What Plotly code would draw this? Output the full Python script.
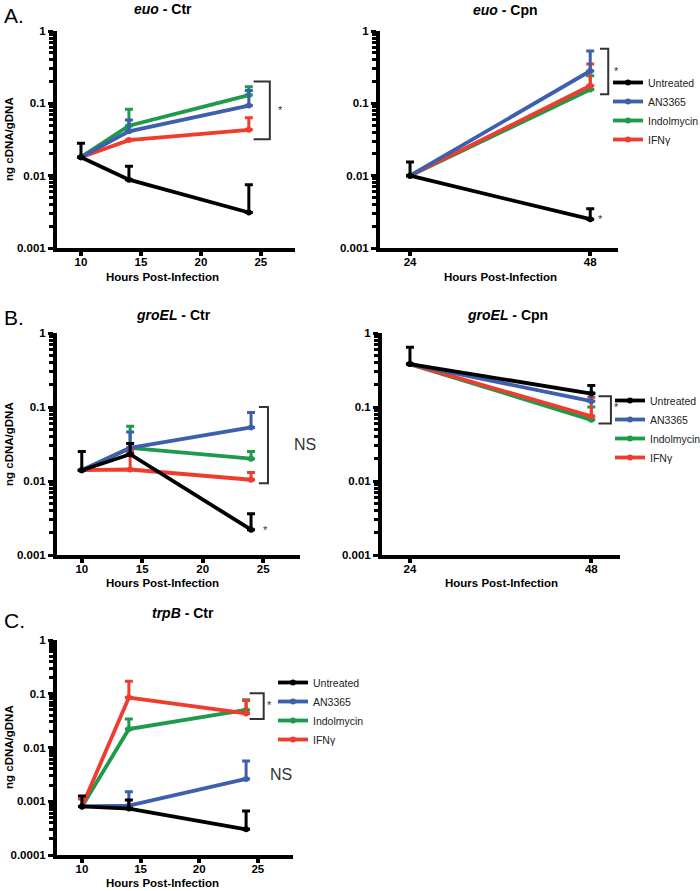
import math
import plotly.graph_objects as go

# ---------------- data ----------------
series_names = ["Untreated", "AN3365", "Indolmycin", "IFNγ"]
series_colors = ["#000000", "#3d5fae", "#1d9a4c", "#f03c2e"]

hours_ctr = [10, 14, 24]
hours_cpn = [24, 48]

# euo - Ctr
euo_ctr_untreated = [0.018, 0.0088, 0.0031]
euo_ctr_untreated_up = [0.028, 0.0135, 0.0075]
euo_ctr_an3365 = [0.018, 0.041, 0.093]
euo_ctr_an3365_up = [None, 0.059, 0.15]
euo_ctr_indolmycin = [0.018, 0.049, 0.13]
euo_ctr_indolmycin_up = [None, 0.083, 0.17]
euo_ctr_ifng = [0.018, 0.031, 0.043]
euo_ctr_ifng_up = [None, None, 0.063]

# euo - Cpn
euo_cpn_untreated = [0.01, 0.0025]
euo_cpn_untreated_up = [0.0155, 0.0035]
euo_cpn_an3365 = [0.01, 0.28]
euo_cpn_an3365_up = [None, 0.53]
euo_cpn_indolmycin = [0.01, 0.155]
euo_cpn_indolmycin_up = [None, 0.24]
euo_cpn_ifng = [0.01, 0.175]
euo_cpn_ifng_up = [None, 0.35]

# groEL - Ctr
groel_ctr_untreated = [0.014, 0.023, 0.0022]
groel_ctr_untreated_up = [0.025, 0.032, 0.0036]
groel_ctr_an3365 = [0.014, 0.028, 0.053]
groel_ctr_an3365_up = [None, 0.046, 0.084]
groel_ctr_indolmycin = [0.014, 0.028, 0.020]
groel_ctr_indolmycin_up = [None, 0.055, 0.025]
groel_ctr_ifng = [0.014, 0.0143, 0.0104]
groel_ctr_ifng_up = [None, 0.025, 0.013]

# groEL - Cpn
groel_cpn_untreated = [0.38, 0.152]
groel_cpn_untreated_up = [0.64, 0.195]
groel_cpn_an3365 = [0.38, 0.12]
groel_cpn_an3365_up = [None, 0.155]
groel_cpn_indolmycin = [0.38, 0.067]
groel_cpn_indolmycin_up = [None, 0.10]
groel_cpn_ifng = [0.38, 0.075]
groel_cpn_ifng_up = [None, 0.135]

# trpB - Ctr
trpb_ctr_untreated = [0.0008, 0.00073, 0.0003]
trpb_ctr_untreated_up = [0.00125, 0.00105, 0.00066]
trpb_ctr_an3365 = [0.0008, 0.00083, 0.0026]
trpb_ctr_an3365_up = [None, 0.0015, 0.0056]
trpb_ctr_indolmycin = [0.0008, 0.022, 0.05]
trpb_ctr_indolmycin_up = [None, 0.034, 0.077]
trpb_ctr_ifng = [0.0008, 0.085, 0.043]
trpb_ctr_ifng_up = [0.0011, 0.17, 0.075]

ctr_tick_vals = [10, 15, 20, 25]
cpn_tick_vals = [24, 48]
y_tick_vals = [1, 0.1, 0.01, 0.001, 0.0001]
y_tick_text = ["1", "0.1", "0.01", "0.001", "0.0001"]

# significance brackets: x-left, x-right, y-top, y-bottom (data units)
bracket_euo_ctr = (24.4, 25.75, 0.20, 0.032)
bracket_euo_cpn = (49.3, 50.4, 0.57, 0.134)
bracket_groel_ctr = (24.65, 25.4, 0.10, 0.0093)
bracket_groel_cpn = (48.95, 50.6, 0.14, 0.060)
bracket_trpb_ctr = (24.3, 25.5, 0.102, 0.034)

# ---------------- layout helpers ----------------
W, H = 700, 891
FONT = "Liberation Sans, Arial, sans-serif"

def px_x(p):
    return p / W

def px_y(p):
    return 1 - p / H

fig = go.Figure()

panels = [
    dict(k="", x=hours_ctr,
         data=[(euo_ctr_untreated, euo_ctr_untreated_up), (euo_ctr_an3365, euo_ctr_an3365_up),
               (euo_ctr_indolmycin, euo_ctr_indolmycin_up), (euo_ctr_ifng, euo_ctr_ifng_up)],
         br=bracket_euo_ctr,
         dx=(57, 295), dy=(31, 248), xr=[8, 27.85], yr=[-3, 0], xt=ctr_tick_vals, legend=None),
    dict(k="2", x=hours_cpn,
         data=[(euo_cpn_untreated, euo_cpn_untreated_up), (euo_cpn_an3365, euo_cpn_an3365_up),
               (euo_cpn_indolmycin, euo_cpn_indolmycin_up), (euo_cpn_ifng, euo_cpn_ifng_up)],
         br=bracket_euo_cpn,
         dx=(380, 618), dy=(31, 248), xr=[20, 51.7], yr=[-3, 0], xt=cpn_tick_vals, legend="legend"),
    dict(k="3", x=hours_ctr,
         data=[(groel_ctr_untreated, groel_ctr_untreated_up), (groel_ctr_an3365, groel_ctr_an3365_up),
               (groel_ctr_indolmycin, groel_ctr_indolmycin_up), (groel_ctr_ifng, groel_ctr_ifng_up)],
         br=bracket_groel_ctr,
         dx=(57, 300), dy=(333, 555), xr=[7.95, 28.05], yr=[-3, 0], xt=ctr_tick_vals, legend=None),
    dict(k="4", x=hours_cpn,
         data=[(groel_cpn_untreated, groel_cpn_untreated_up), (groel_cpn_an3365, groel_cpn_an3365_up),
               (groel_cpn_indolmycin, groel_cpn_indolmycin_up), (groel_cpn_ifng, groel_cpn_ifng_up)],
         br=bracket_groel_cpn,
         dx=(382, 620), dy=(333, 555), xr=[20.3, 51.8], yr=[-3, 0], xt=cpn_tick_vals, legend="legend2"),
    dict(k="5", x=hours_ctr,
         data=[(trpb_ctr_untreated, trpb_ctr_untreated_up), (trpb_ctr_an3365, trpb_ctr_an3365_up),
               (trpb_ctr_indolmycin, trpb_ctr_indolmycin_up), (trpb_ctr_ifng, trpb_ctr_ifng_up)],
         br=bracket_trpb_ctr,
         dx=(57, 293), dy=(640, 855), xr=[7.87, 28], yr=[-4, 0], xt=ctr_tick_vals, legend="legend3"),
]

draw_order = [2, 3, 1, 0]  # Indolmycin, IFNγ, AN3365, Untreated on top

layout_axes = {}
for p in panels:
    k = p["k"]
    xa = "x" + k
    ya = "y" + k
    bx0, bx1, byt, byb = p["br"]
    fig.add_trace(go.Scatter(
        x=[bx0, bx1, bx1, bx0], y=[byt, byt, byb, byb], xaxis=xa, yaxis=ya,
        mode="lines", line=dict(color="#333333", width=2), showlegend=False,
        hoverinfo="skip",
    ))
    for si in draw_order:
        vals, ups = p["data"][si]
        err = [(u - v) if u is not None else None for v, u in zip(vals, ups)]
        fig.add_trace(go.Scatter(
            x=p["x"], y=vals, xaxis=xa, yaxis=ya,
            mode="lines+markers",
            name=series_names[si],
            line=dict(color=series_colors[si], width=3.8),
            marker=dict(color=series_colors[si], size=6),
            error_y=dict(type="data", symmetric=False, array=err,
                         arrayminus=[0] * len(vals), color=series_colors[si],
                         thickness=3, width=4),
            showlegend=p["legend"] is not None,
            legend=p["legend"] if p["legend"] else "legend",
            legendrank=si + 1,
            hoverinfo="skip",
        ))
    lo, hi = p["yr"]
    minor_vals = []
    for e in range(lo, hi):
        for m in range(2, 10):
            minor_vals.append(m * 10 ** e)
    ytv = [v for v in y_tick_vals if lo <= math.log10(v) <= hi]
    ytt = [t for v, t in zip(y_tick_vals, y_tick_text) if lo <= math.log10(v) <= hi]
    layout_axes["xaxis" + k] = dict(
        domain=[px_x(p["dx"][0]), px_x(p["dx"][1])], range=p["xr"], anchor=ya,
        showline=True, linewidth=4, linecolor="black", showgrid=False, zeroline=False,
        ticks="outside", ticklen=4, tickwidth=4, tickcolor="black",
        ticklabelstandoff=-4,
        tickvals=p["xt"], ticktext=[str(v) for v in p["xt"]],
        tickfont=dict(family=FONT, size=11.5, color="black", weight="bold"),
    )
    layout_axes["yaxis" + k] = dict(
        domain=[px_y(p["dy"][1]), px_y(p["dy"][0])], type="log", range=p["yr"], anchor=xa,
        showline=True, linewidth=4, linecolor="black", showgrid=False, zeroline=False,
        ticks="outside", ticklen=5, tickwidth=3, tickcolor="black",
        tickvals=ytv, ticktext=ytt,
        tickfont=dict(family=FONT, size=11.5, color="black", weight="bold"),
        minor=dict(tickvals=minor_vals, ticks="outside", ticklen=4, tickwidth=3,
                   tickcolor="black", showgrid=False),
    )

def legend_cfg(xpx, ytop_px):
    return dict(x=px_x(xpx), y=px_y(ytop_px), xanchor="left", yanchor="top",
                font=dict(family=FONT, size=10.5, color="#222"),
                bgcolor="rgba(0,0,0,0)", itemwidth=30, tracegroupgap=0,
                traceorder="normal")

fig.update_layout(
    width=W, height=H,
    margin=dict(l=0, r=0, t=0, b=0, autoexpand=False),
    paper_bgcolor="white", plot_bgcolor="white",
    legend=legend_cfg(608, 68),
    legend2=legend_cfg(610, 386),
    legend3=legend_cfg(273, 668),
    **layout_axes,
)

ann = []
def text(xp, yp, s, size, bold=False, color="black", angle=0, xanchor="center"):
    ann.append(dict(x=px_x(xp), y=px_y(yp), xref="paper", yref="paper", text=s,
                    showarrow=False, textangle=angle, xanchor=xanchor, yanchor="middle",
                    font=dict(family=FONT, size=size, color=color,
                              weight="bold" if bold else "normal")))

text(2, 15, "A.", 21, xanchor="left")
text(2, 318, "B.", 21, xanchor="left")
text(2, 620, "C.", 21, xanchor="left")
text(163, 9, "<i>euo</i> - Ctr", 14, bold=True)
text(505, 10, "<i>euo</i> - Cpn", 14, bold=True)
text(173, 315, "<i>groEL</i> - Ctr", 14, bold=True)
text(507, 315, "<i>groEL</i> - Cpn", 14, bold=True)
text(183, 613, "<i>trpB</i> - Ctr", 14, bold=True)
for xp, yp in [(162, 277), (500, 277), (162, 583), (501, 583), (162, 883)]:
    text(xp, yp, "Hours Post-Infection", 11.5, bold=True)
for yp in [139, 444, 747]:
    text(9, yp, "ng cDNA/gDNA", 11.5, bold=True, angle=-90)

marks = [
    ("x", "y", 26.65, 0.081, "*", 11),
    ("x2", "y2", 51.5, 0.28, "*", 11),
    ("x2", "y2", 49.4, 0.0025, "*", 11),
    ("x3", "y3", 27.4, 0.031, "NS", 16),
    ("x3", "y3", 25.2, 0.0022, "*", 11),
    ("x4", "y4", 51.3, 0.10, "*", 11),
    ("x5", "y5", 26.0, 0.062, "*", 11),
    ("x5", "y5", 25.9, 0.0031, "NS", 16),
]
for xr_, yr_, xv, yv, s, size in marks:
    ann.append(dict(x=xv, y=math.log10(yv), xref=xr_, yref=yr_, text=s, showarrow=False,
                    xanchor="left" if s == "NS" else "center", yanchor="middle",
                    font=dict(family=FONT, size=size, color="#333333")))

fig.update_layout(annotations=ann)
fig.write_html("out.html", config={"displayModeBar": False},
               post_script="document.body.style.margin='0';document.body.style.overflow='hidden';")
